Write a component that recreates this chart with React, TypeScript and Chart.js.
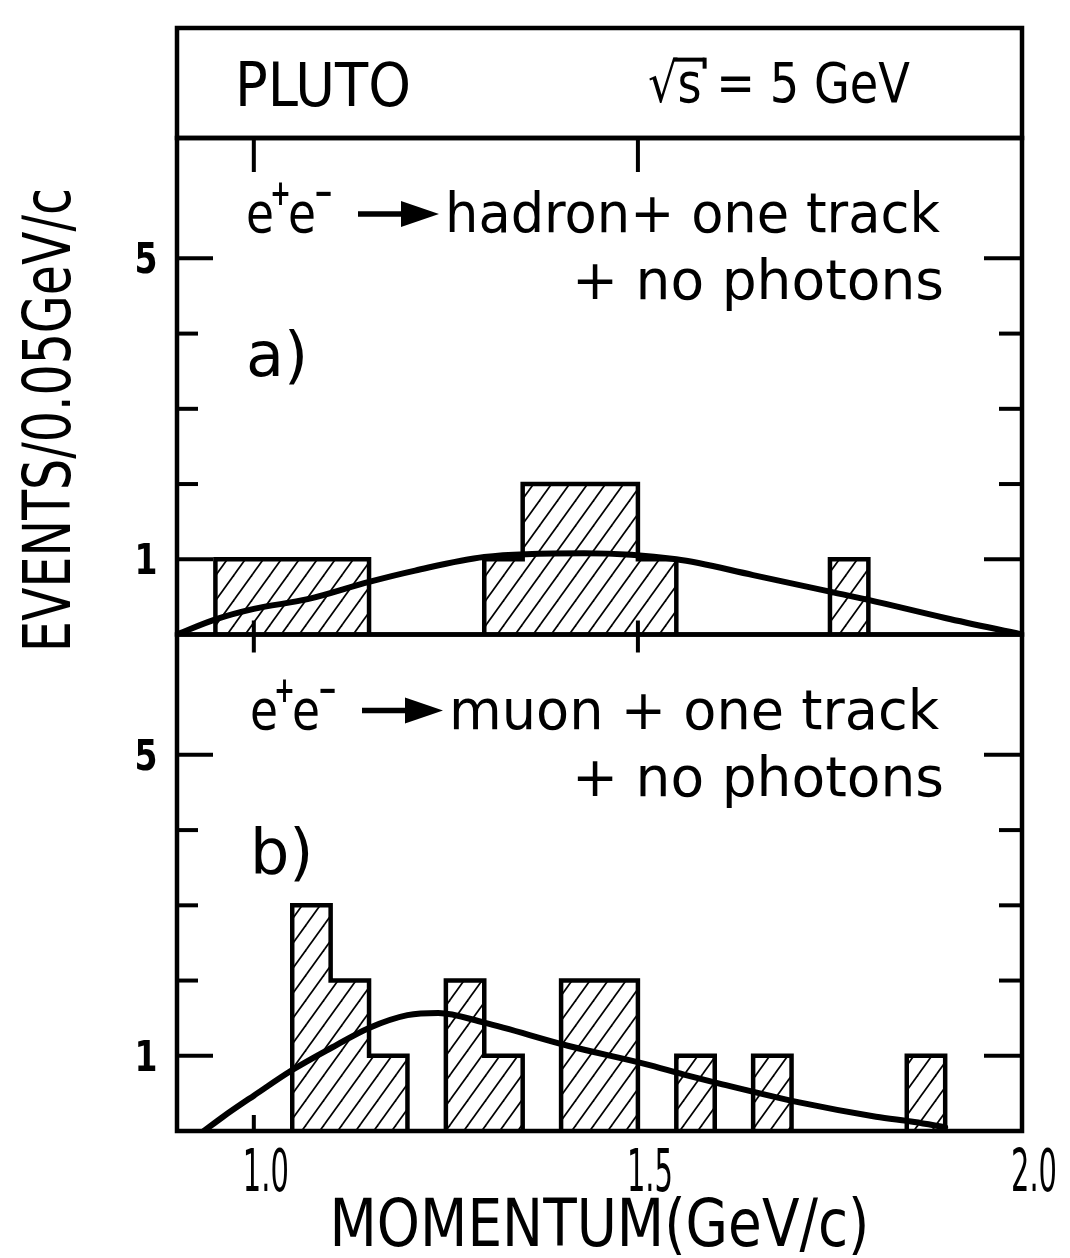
import React, { useEffect, useRef } from 'react';
import { Chart, registerables } from 'chart.js';

Chart.register(...registerables);

// ---- axes ----
const xMin = 0.9;
const xMax = 2.0;
const yMax = 6.6;
const xTickValues = [1.0, 1.5, 2.0];
const xTickLabels = ['1.0', '1.5', '2.0'];
const yTickValues = [1, 2, 3, 4, 5];
const yLabelValues = [5, 1];
const yLabelTexts = ['5', '1'];

// ---- panel a: e+e- -> hadron + one track + no photons ----
const aBinLow = [0.95, 1.3, 1.35, 1.5, 1.75];
const aBinHigh = [1.15, 1.35, 1.5, 1.55, 1.8];
const aCounts = [1, 1, 2, 1, 1];
const aCurveP = [0.9, 0.95, 1.0, 1.07, 1.15, 1.21, 1.3, 1.43, 1.55, 1.65, 1.75, 1.8, 1.9, 2.0];
const aCurveN = [0, 0.2, 0.34, 0.47, 0.7, 0.85, 1.03, 1.08, 1.0, 0.79, 0.57, 0.46, 0.22, 0];

// ---- panel b: e+e- -> muon + one track + no photons ----
const bBinLow = [1.05, 1.1, 1.15, 1.25, 1.3, 1.4, 1.55, 1.65, 1.85];
const bBinHigh = [1.1, 1.15, 1.2, 1.3, 1.35, 1.5, 1.6, 1.7, 1.9];
const bCounts = [3, 2, 1, 2, 1, 2, 1, 1, 1];
const bCurveP = [0.935, 0.96, 1.0, 1.05, 1.1, 1.15, 1.2, 1.24, 1.3, 1.41, 1.51, 1.56, 1.61, 1.71, 1.81, 1.86, 1.9];
const bCurveN = [0, 0.19, 0.47, 0.81, 1.1, 1.37, 1.54, 1.57, 1.44, 1.13, 0.89, 0.75, 0.62, 0.38, 0.19, 0.12, 0.05];

// ---- texts ----
const headerLeft = 'PLUTO';
const headerRight = '√s = 5 GeV';
const yTitle = 'EVENTS/0.05GeV/c';
const xTitle = 'MOMENTUM(GeV/c)';
const aReaction = 'hadron+ one track';
const bReaction = 'muon + one track';
const secondLine = '+ no photons';
const aTag = 'a)';
const bTag = 'b)';

const FONT = '"DejaVu Sans", "Liberation Sans", sans-serif';

function histPoints(lo: number[], hi: number[], n: number[]) {
  const pts: { x: number; y: number | null }[] = [];
  for (let i = 0; i < lo.length; i++) {
    const newGroup = i === 0 || Math.abs(lo[i] - hi[i - 1]) > 1e-6;
    if (newGroup) {
      if (i > 0) {
        pts.push({ x: hi[i - 1], y: 0 });
        pts.push({ x: (hi[i - 1] + lo[i]) / 2, y: null });
      }
      pts.push({ x: lo[i], y: 0 });
    }
    pts.push({ x: lo[i], y: n[i] });
    pts.push({ x: hi[i], y: n[i] });
  }
  pts.push({ x: hi[hi.length - 1], y: 0 });
  return pts;
}

function curvePoints(p: number[], n: number[]) {
  return p.map((v, i) => ({ x: v, y: n[i] }));
}

function makeHatch(ctx: CanvasRenderingContext2D) {
  const w = 18;
  const h = 25;
  const c = document.createElement('canvas');
  c.width = w;
  c.height = h;
  const g = c.getContext('2d')!;
  g.strokeStyle = '#000';
  g.lineWidth = 1.7;
  for (const o of [-w, 0, w]) {
    g.beginPath();
    g.moveTo(o - w * 0.1, h + h * 0.1);
    g.lineTo(o + w + w * 0.1, -h * 0.1);
    g.stroke();
  }
  return ctx.createPattern(c, 'repeat')!;
}

function text(
  ctx: CanvasRenderingContext2D,
  s: string,
  x: number,
  y: number,
  size: number,
  maxW?: number,
  align: CanvasTextAlign = 'left',
  weight = 'normal'
) {
  ctx.font = `${weight} ${size}px ${FONT}`;
  ctx.textAlign = align;
  ctx.textBaseline = 'alphabetic';
  if (maxW !== undefined) ctx.fillText(s, x, y, maxW);
  else ctx.fillText(s, x, y);
}

function seg(ctx: CanvasRenderingContext2D, x1: number, y1: number, x2: number, y2: number) {
  ctx.beginPath();
  ctx.moveTo(x1, y1);
  ctx.lineTo(x2, y2);
  ctx.stroke();
}

function drawReaction(ctx: CanvasRenderingContext2D, x0: number, base: number, rest: string, maxW: number) {
  text(ctx, 'e', x0, base, 56, 28);
  text(ctx, '+', x0 + 24, base - 27, 36, 21, 'left', 'bold');
  text(ctx, 'e', x0 + 42, base, 56, 28);
  text(ctx, '−', x0 + 68, base - 27, 36, 19, 'left', 'bold');
  const ay = base - 18;
  ctx.lineWidth = 5.5;
  seg(ctx, x0 + 112, ay, x0 + 162, ay);
  ctx.beginPath();
  ctx.moveTo(x0 + 155, ay - 13);
  ctx.lineTo(x0 + 193, ay);
  ctx.lineTo(x0 + 155, ay + 13);
  ctx.closePath();
  ctx.fill();
  text(ctx, rest, x0 + 199, base, 56, maxW);
}

const framePlugin = {
  id: 'plutoFrame',
  afterDraw(chart: any) {
    const ctx: CanvasRenderingContext2D = chart.ctx;
    const { left, right, top } = chart.chartArea;
    const xs = chart.scales.x;
    const ya = chart.scales.ya;
    const yb = chart.scales.yb;
    const headerTop = 28;
    ctx.save();
    ctx.strokeStyle = '#000';
    ctx.fillStyle = '#000';
    ctx.lineJoin = 'miter';
    ctx.lineCap = 'butt';

    // frames
    ctx.lineWidth = 4.5;
    ctx.strokeRect(left, headerTop, right - left, top - headerTop);
    for (const s of [ya, yb]) ctx.strokeRect(left, s.top, right - left, s.bottom - s.top);

    // y ticks (inside, both sides)
    ctx.lineWidth = 4;
    for (const s of [ya, yb]) {
      for (const v of yTickValues) {
        const y = s.getPixelForValue(v);
        const major = yLabelValues.includes(v);
        seg(ctx, left, y, left + (major ? 36 : 21), y);
        seg(ctx, right, y, right - (major ? 38 : 23), y);
      }
    }
    // x ticks
    for (const v of xTickValues) {
      if (v >= xMax) continue;
      const x = xs.getPixelForValue(v);
      seg(ctx, x, ya.top, x, ya.top + 34);
      seg(ctx, x, ya.bottom - 14, x, yb.top + 18);
      seg(ctx, x, yb.bottom, x, yb.bottom - 16);
    }

    // y tick labels
    for (const s of [ya, yb]) {
      yLabelValues.forEach((v, i) => {
        const y = s.getPixelForValue(v);
        text(ctx, yLabelTexts[i], left - 31, y + 15, 42, 23, 'center', 'bold');
      });
    }
    // x tick labels
    xTickValues.forEach((v, i) => {
      const x = xs.getPixelForValue(v);
      text(ctx, xTickLabels[i], x + 12, 1191, 58, 46, 'center');
    });

    // axis titles
    text(ctx, xTitle, (left + right) / 2, 1246, 66, 540, 'center');
    ctx.save();
    ctx.translate(70, 420);
    ctx.rotate(-Math.PI / 2);
    text(ctx, yTitle, 0, 0, 65, 464, 'center');
    ctx.restore();

    // header
    text(ctx, headerLeft, 235, 106, 60, 176);
    const hx = 648;
    const hSize = 55;
    const hMax = 262;
    text(ctx, headerRight, hx, 102, hSize, hMax);
    ctx.font = `normal ${hSize}px ${FONT}`;
    const nat = ctx.measureText(headerRight).width;
    const k = Math.min(1, hMax / nat);
    const wRoot = ctx.measureText('√').width * k;
    const wRootS = ctx.measureText('√s').width * k;
    ctx.lineWidth = 4;
    const vy = 102 - hSize * 0.77;
    seg(ctx, hx + wRoot - 4, vy, hx + wRootS + 3, vy);
    seg(ctx, hx + wRootS + 3, vy - 2, hx + wRootS + 3, vy + 9);

    // panel annotations
    const panels = [
      { s: ya, x0: 246, rest: aReaction, maxW: 495, tag: aTag },
      { s: yb, x0: 250, rest: bReaction, maxW: 490, tag: bTag },
    ];
    for (const p of panels) {
      const t = p.s.top;
      drawReaction(ctx, p.x0, t + 94, p.rest, p.maxW);
      text(ctx, secondLine, right - 78, t + 161, 56, 372, 'right');
      text(ctx, p.tag, p.x0, t + 238, 62);
    }
    ctx.restore();
  },
};

export default function App() {
  const ref = useRef<HTMLCanvasElement>(null);
  useEffect(() => {
    const canvas = ref.current!;
    const ctx = canvas.getContext('2d')!;
    const hatch = makeHatch(ctx);
    const histStyle = {
      type: 'line' as const,
      borderColor: '#000',
      borderWidth: 4.5,
      backgroundColor: hatch,
      fill: 'origin',
      tension: 0,
      pointRadius: 0,
      spanGaps: false,
      borderJoinStyle: 'miter' as const,
      order: 2,
    };
    const curveStyle = {
      type: 'line' as const,
      borderColor: '#000',
      borderWidth: 6,
      fill: false,
      cubicInterpolationMode: 'monotone' as const,
      pointRadius: 0,
      borderCapStyle: 'round' as const,
      order: 1,
    };
    const chart = new Chart(canvas, {
      type: 'line',
      data: {
        datasets: [
          { ...curveStyle, label: 'fit a', data: curvePoints(aCurveP, aCurveN), yAxisID: 'ya' },
          { ...curveStyle, label: 'fit b', data: curvePoints(bCurveP, bCurveN), yAxisID: 'yb' },
          { ...histStyle, label: 'hadron + one track', data: histPoints(aBinLow, aBinHigh, aCounts), yAxisID: 'ya' },
          { ...histStyle, label: 'muon + one track', data: histPoints(bBinLow, bBinHigh, bCounts), yAxisID: 'yb' },
        ] as any,
      },
      options: {
        responsive: false,
        animation: false,
        events: [],
        layout: { padding: { top: 138, right: 48, bottom: 0, left: 0 } },
        plugins: {
          legend: { display: false },
          tooltip: { enabled: false },
          title: { display: false },
        },
        scales: {
          x: {
            type: 'linear',
            position: 'bottom',
            min: xMin,
            max: xMax,
            grid: { display: false },
            border: { display: false },
            ticks: { display: false },
            afterFit: (s: any) => {
              s.height = 127;
            },
          },
          ya: {
            type: 'linear',
            position: 'left',
            stack: 'panels',
            stackWeight: 1,
            weight: 1,
            min: 0,
            max: yMax,
            grid: { display: false },
            border: { display: false },
            ticks: { display: false },
            afterFit: (s: any) => {
              s.width = 177;
            },
          },
          yb: {
            type: 'linear',
            position: 'left',
            stack: 'panels',
            stackWeight: 1,
            weight: 0,
            min: 0,
            max: yMax,
            grid: { display: false },
            border: { display: false },
            ticks: { display: false },
            afterFit: (s: any) => {
              s.width = 177;
            },
          },
        } as any,
      },
      plugins: [framePlugin],
    });
    return () => chart.destroy();
  }, []);
  return (
    <div style={{ position: 'absolute', left: 0, top: 0, width: 1070, height: 1258, background: '#fff' }}>
      <canvas ref={ref} width={1070} height={1258} style={{ display: 'block', width: 1070, height: 1258 }} />
    </div>
  );
}
